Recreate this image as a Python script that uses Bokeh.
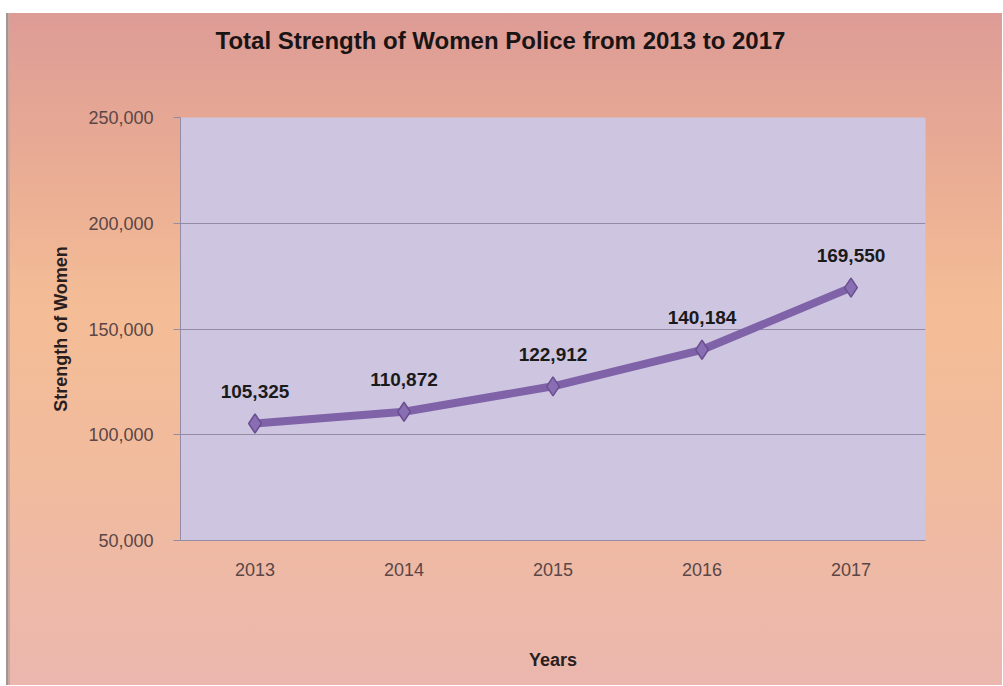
from bokeh.plotting import figure
from bokeh.models import ColumnDataSource, LabelSet, NumeralTickFormatter, FixedTicker, Range1d
from bokeh.core.properties import value
from bokeh.embed import file_html
from bokeh.resources import INLINE

title_text = "Total Strength of Women Police from 2013 to 2017"
years = ["2013", "2014", "2015", "2016", "2017"]
strength = [105325, 110872, 122912, 140184, 169550]
labels = ["105,325", "110,872", "122,912", "140,184", "169,550"]
y_ticks = [50000, 100000, 150000, 200000, 250000]

src = ColumnDataSource(dict(x=years, y=strength, lab=labels))

FONT = "Liberation Sans"

p = figure(
    width=1002, height=685,
    x_range=years, y_range=Range1d(50000, 250000),
    output_backend="svg", toolbar_location=None,
    min_border_left=180, min_border_right=77, min_border_top=117, min_border_bottom=145,
)
p.styles = {"background-image": (
    "linear-gradient(180deg, #ffffff 0px, #ffffff 13px, rgba(255,255,255,0) 13px), "
    "linear-gradient(90deg, #ffffff 0px, #ffffff 6px, #a39592 6px, #a39592 8px, #c8a8a2 8px, #c8a8a2 10px, rgba(255,255,255,0) 10px), "
    "linear-gradient(180deg, #dc9a96 0%, #e8aa94 22%, #f4bd96 45%, #f1bb9e 70%, #ebb7ae 100%)")}
p.border_fill_color = None
p.background_fill_color = "#cec5e0"
p.outline_line_color = None

# title: extra blank lines below lift the first line up into the border area
p.title.text = title_text + "\n \n "
p.title.align = "left"
p.title.offset = 35
p.title.vertical_align = "bottom"
p.title.standoff = 20
p.title.text_font = FONT
p.title.text_font_size = "24px"
p.title.text_font_style = "bold"
p.title.text_color = "#1a1414"

p.line("x", "y", source=src, line_color="#7f62a8", line_width=8)
p.scatter("x", "y", source=src, marker="diamond", size=19,
          fill_color="#8a6eb4", line_color="#6a4f90", line_width=1.5)

ls = LabelSet(x="x", y="y", text="lab", source=src, y_offset=32,
              text_align="center", text_baseline="middle",
              text_font=value(FONT),
              text_font_size="19px", text_font_style="bold", text_color="#1a1a1a")
p.add_layout(ls)

p.ygrid.ticker = FixedTicker(ticks=y_ticks)
p.ygrid.grid_line_color = "#948ca4"
p.ygrid.grid_line_width = 1
p.xgrid.grid_line_color = None

ya = p.yaxis[0]
ya.ticker = FixedTicker(ticks=y_ticks)
ya.formatter = NumeralTickFormatter(format="0,0")
ya.axis_label = "Strength of Women"
ya.axis_label_text_font = FONT
ya.axis_label_text_font_size = "18px"
ya.axis_label_text_font_style = "bold"
ya.axis_label_text_color = "#2a1e1e"
ya.axis_label_standoff = 14
ya.major_label_text_font = FONT
ya.major_label_text_font_size = "18px"
ya.major_label_text_color = "#5a4646"
ya.major_label_standoff = 20
ya.major_tick_out = 7
ya.major_tick_in = 0
ya.major_tick_line_color = "#948ca4"
ya.minor_tick_line_color = None
ya.axis_line_color = "#948ca4"

xa = p.xaxis[0]
xa.axis_label = "Years"
xa.axis_label_text_font = FONT
xa.axis_label_text_font_size = "18px"
xa.axis_label_text_font_style = "bold"
xa.axis_label_text_color = "#2a1e1e"
xa.axis_label_standoff = 71
xa.major_label_text_font = FONT
xa.major_label_text_font_size = "18px"
xa.major_label_text_color = "#5a4646"
xa.major_label_standoff = 22
xa.major_tick_out = 0
xa.major_tick_in = 0
xa.axis_line_color = "#948ca4"

open("out.html", "w").write(file_html(p, INLINE))
